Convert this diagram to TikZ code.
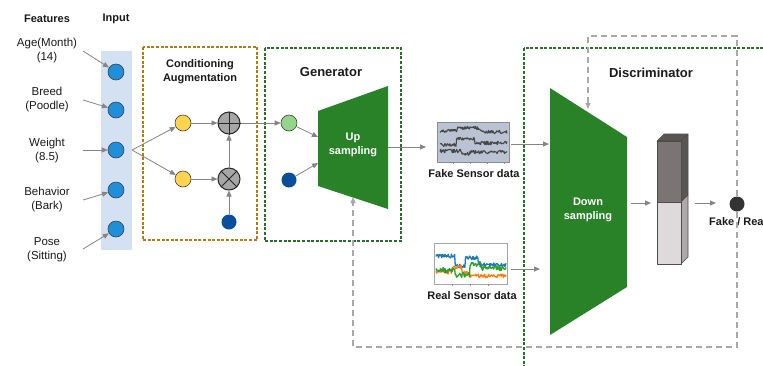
\documentclass[tikz,border=0pt]{standalone}
\usepackage{fontspec}
\setmainfont{Liberation Sans}
\usetikzlibrary{arrows.meta}
\definecolor{inblue}{HTML}{1E8FD8}
\definecolor{bandblue}{HTML}{D3E1F3}
\definecolor{caline}{HTML}{B07D10}
\definecolor{gline}{HTML}{2E6B2E}
\definecolor{gfill}{HTML}{2A8228}
\definecolor{yel}{HTML}{FFD54F}
\definecolor{lgreen}{HTML}{95D58B}
\definecolor{dblue}{HTML}{0B4F9C}
\definecolor{arr}{HTML}{858585}
\definecolor{fbk}{HTML}{A8A8A8}
\definecolor{txt}{HTML}{1A1A1A}
\definecolor{fakebg}{HTML}{BAC3D3}
\definecolor{pblue}{HTML}{1F77B4}
\definecolor{porange}{HTML}{FF7F0E}
\definecolor{pgreen}{HTML}{2CA02C}
\definecolor{coltop}{HTML}{7A7474}
\definecolor{colside}{HTML}{5A5555}
\definecolor{colbot}{HTML}{DEDADC}
\definecolor{colbotside}{HTML}{ADA9AB}
\begin{document}
\begin{tikzpicture}[x=1pt,y=-1pt,
  lbl/.style={font=\fontsize{11.5}{14}\selectfont, align=center, text=txt, inner sep=0},
  hdr/.style={font=\fontsize{11}{14}\selectfont\bfseries, align=center, text=txt, inner sep=0},
  ttl/.style={font=\fontsize{13}{15}\selectfont\bfseries, align=center, text=txt, inner sep=0},
  wtxt/.style={font=\fontsize{11}{14}\selectfont\bfseries, align=center, text=white, inner sep=0},
  incirc/.style={circle, draw=black!75, line width=0.6pt, fill=inblue, minimum size=16pt, inner sep=0},
  ycirc/.style={circle, draw=black!75, line width=0.6pt, fill=yel, minimum size=16pt, inner sep=0},
  gcirc/.style={circle, draw=black!75, line width=0.6pt, fill=lgreen, minimum size=16pt, inner sep=0},
  dcirc/.style={circle, fill=dblue, minimum size=15pt, inner sep=0},
  opcirc/.style={circle, draw=black!85, line width=1pt, fill=black!35, minimum size=22pt, inner sep=0},
  arw/.style={draw=arr, line width=0.8pt, -{Triangle[length=6pt,width=5pt]}},
  fbline/.style={draw=fbk, line width=1.4pt, dash pattern=on 6pt off 4pt, -{Triangle[length=6pt,width=5pt]}},
  cabox/.style={draw=caline, line width=1.4pt, dash pattern=on 3pt off 1.6pt},
  gbox/.style={draw=gline, line width=1.4pt, dash pattern=on 3pt off 1.6pt},
]
\clip (0,0) rectangle (763,365);
\fill[white] (0,0) rectangle (763,365);

% headers
\node[hdr] (hfeat) at (47,19) {Features};
\node[hdr] (hin) at (116,19) {Input};

% input band
\fill[bandblue] (101,51) rectangle (132,250);

% feature labels
\node[lbl] (l1) at (47,51) {Age(Month)\\(14)};
\node[lbl] (l2) at (47,100) {Breed\\(Poodle)};
\node[lbl] (l3) at (47,151) {Weight\\(8.5)};
\node[lbl] (l4) at (47,200) {Behavior\\(Bark)};
\node[lbl] (l5) at (47,250) {Pose\\(Sitting)};

% input circles
\node[incirc] (in1) at (116,72) {};
\node[incirc] (in2) at (116,110) {};
\node[incirc] (in3) at (116,150) {};
\node[incirc] (in4) at (116,190) {};
\node[incirc] (in5) at (116,229) {};

\coordinate (f1) at (83,51);
\coordinate (f2) at (83,100);
\coordinate (f3) at (83,150);
\coordinate (f4) at (83,200);
\coordinate (f5) at (83,249);
\draw[arw] (f1) -- (in1);
\draw[arw] (f2) -- (in2);
\draw[arw] (f3) -- (in3);
\draw[arw] (f4) -- (in4);
\draw[arw] (f5) -- (in5);

% Conditioning Augmentation
\draw[cabox] (143,47) rectangle (257,240);
\node[hdr] (catitle) at (200,72) {Conditioning\\Augmentation};
\node[ycirc] (y1) at (183,123) {};
\node[ycirc] (y2) at (183,179) {};
\node[opcirc] (op) at (229,123) {};
\draw[black!85, line width=1pt] (op.north) -- (op.south) (op.west) -- (op.east);
\node[opcirc] (ot) at (229,179) {};
\draw[black!85, line width=1pt] (ot.north west) -- (ot.south east) (ot.north east) -- (ot.south west);
\node[dcirc] (db1) at (229,222) {};

\coordinate (fork) at (132,150);
\draw[arw] (fork) -- (y1);
\draw[arw] (fork) -- (y2);
\draw[arw] (y1) -- (op);
\draw[arw] (y2) -- (ot);
\draw[arw] (db1) -- (ot);
\draw[arw] (ot) -- (op);

% Generator
\draw[gbox] (265,48) rectangle (401,241);
\node[ttl] (gtitle) at (331,72) {Generator};
\node[gcirc] (lg) at (289,123) {};
\node[dcirc] (db2) at (289,180) {};
\fill[gfill] (318,111) -- (388,86) -- (388,209) -- (318,186) -- cycle;
\node[wtxt] (ustxt) at (353,145) {Up\\sampling};
\coordinate (usin1) at (318,137);
\coordinate (usin2) at (318,163);
\coordinate (usout) at (388,147);
\coordinate (usbot) at (353,197);
\draw[arw] (op) -- (lg);
\draw[arw] (lg) -- (usin1);
\draw[arw] (db2) -- (usin2);

% Fake sensor data
\node[draw=black!45, line width=0.6pt, fill=fakebg, minimum width=72pt, minimum height=40pt, inner sep=0] (fake) at (473,142) {};
\pgfmathsetseed{11}
\begin{scope}[draw=black!72, line width=1.1pt, line join=round]
\draw plot[domain=440:507, samples=110] (\x, {(\x<457?131:(\x<480?128:132))+3.5*(rnd-0.5)});
\draw plot[domain=440:507, samples=110] (\x, {(\x<456?145:(\x<475?139:143))+3.5*(rnd-0.5)});
\draw plot[domain=440:507, samples=110] (\x, {(\x<462?151:(\x<470?154:152))+3.5*(rnd-0.5)});
\end{scope}
\foreach \t in {453,470,487,504} \draw[black!45, line width=0.4pt] (\t,162) -- (\t,164);
\node[hdr] (fakelbl) at (474,174) {Fake Sensor data};
\coordinate (fkin) at (426,147);
\draw[arw] (usout) -- (fkin);

% Real sensor data
\node[draw=black!35, line width=0.6pt, fill=white, minimum width=73pt, minimum height=41pt, inner sep=0] (real) at (471,264) {};
\begin{scope}[line width=1.3pt, line join=round]
\draw[pblue] plot[domain=436:506, samples=110] (\x, {(\x<455?256:(\x<465?266:(\x<478?258:265)))+4*(rnd-0.5)});
\draw[porange] plot[domain=436:506, samples=110] (\x, {(\x<452?272:(\x<462?267:(\x<470?273:276)))+4*(rnd-0.5)});
\draw[pgreen] plot[domain=436:506, samples=110] (\x, {(\x<455?270:(\x<470?275:(\x<482?264:268)))+5*(rnd-0.5)});
\end{scope}
\foreach \t in {452,470,488} \draw[black!45, line width=0.4pt] (\t,284) -- (\t,286);
\node[hdr] (reallbl) at (472,296) {Real Sensor data};

% Discriminator
\draw[gbox] (524,48) rectangle (800,400);
\node[ttl] (dtitle) at (651,73) {Discriminator};
\fill[gfill] (550,88) -- (627,137) -- (627,287) -- (550,335) -- cycle;
\node[wtxt] (dstxt) at (588,210) {Down\\sampling};
\coordinate (dsin1) at (549,144);
\coordinate (dsin2) at (540,269);
\coordinate (dsout) at (631,203);
\coordinate (dstop) at (588,109);
\coordinate (fkout) at (511,144);
\coordinate (rlout) at (511,269);
\draw[arw] (fkout) -- (dsin1);
\draw[arw] (rlout) -- (dsin2);

% column
\begin{scope}[draw=black!70, line width=0.6pt, line join=round]
\filldraw[fill=colside] (657,141) -- (664,134) -- (688,134) -- (681,141) -- cycle;
\filldraw[fill=colside] (681,141) -- (688,134) -- (688,195) -- (681,202) -- cycle;
\filldraw[fill=colbotside] (681,202) -- (688,195) -- (688,257) -- (681,264) -- cycle;
\filldraw[fill=coltop] (657,141) rectangle (681,202);
\filldraw[fill=colbot] (657,202) rectangle (681,264);
\end{scope}
\coordinate (colin) at (651,203);
\coordinate (colout) at (695,203);
\coordinate (ballin) at (716,203);
\node[circle, fill=black!80, minimum size=15pt, inner sep=0] (ball) at (737,204) {};
\node[hdr, anchor=west] (fr) at (709,222) {Fake / Real};
\draw[arw] (dsout) -- (colin);
\draw[arw] (colout) -- (ballin);

% feedback loops
\coordinate (fbA) at (588,36);
\coordinate (fbB) at (353,347);
\draw[fbline] (ball.north) |- (fbA) -- (dstop);
\draw[fbline] (ball.south) |- (fbB) -- (usbot);
\end{tikzpicture}
\end{document}
